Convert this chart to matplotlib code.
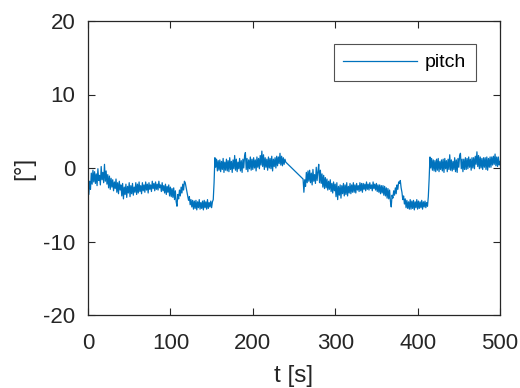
import matplotlib
matplotlib.use("Agg")
import matplotlib.pyplot as plt
import numpy as np

# segment 1: t = 0..240 s (1 s step)
pitch_seg1 = [
    -2.4, -3.6, -1.8, -2.9, -0.7, -2.2, -0.3, -1.9, -0.5, -2.1,
    -0.8, -2.4, -0.1, -1.7, -1.0, -2.3, 0.2, -1.6, -0.6, -2.0,
    0.5, -1.8, -0.4, -2.2, -0.9, -2.7, -1.1, -2.9, -1.4, -2.6,
    -1.6, -3.1, -1.9, -2.8, -1.5, -3.3, -2.0, -3.5, -1.8, -3.0,
    -2.3, -3.8, -2.1, -4.2, -2.6, -3.6, -2.2, -4.0, -2.5, -3.4,
    -2.0, -3.9, -2.4, -3.5, -2.1, -3.7, -2.6, -3.3, -2.0, -3.6,
    -2.2, -3.4, -1.9, -3.2, -2.4, -3.5, -2.0, -3.1, -2.3, -3.3,
    -1.9, -3.0, -2.2, -3.4, -2.0, -2.9, -2.3, -3.2, -1.8, -2.8,
    -2.1, -3.1, -1.9, -2.9, -2.2, -3.0, -1.8, -2.7, -2.3, -3.2,
    -2.0, -3.1, -2.4, -3.4, -2.2, -3.6, -2.5, -3.3, -2.3, -3.8,
    -2.6, -3.9, -2.8, -4.0, -2.7, -4.3, -3.1, -4.6, -5.2, -3.6,
    -4.2, -3.0, -3.8, -2.6, -3.4, -2.2, -3.0, -1.8, -2.0, -2.6,
    -3.2, -3.8, -4.4, -3.9, -5.0, -4.3, -5.3, -4.4, -5.6, -4.5,
    -5.5, -4.4, -5.7, -4.6, -5.4, -4.3, -5.6, -4.7, -5.5, -4.5,
    -5.7, -4.4, -5.4, -4.6, -5.6, -4.3, -5.5, -4.7, -5.3, -4.5,
    -5.4, -4.6, -4.3, -2.0, 1.4, 0.1, 1.2, -0.4, 1.0, -0.3,
    1.1, -0.5, 0.9, -0.2, 1.3, -0.6, 0.8, -0.3, 1.2, -0.4,
    1.0, -0.5, 1.4, -0.2, 0.9, -0.6, 1.1, -0.1, 1.7, -0.3,
    1.2, -0.5, 0.8, -0.1, 1.3, -0.4, 1.0, -0.6, 1.2, 0.0,
    1.6, 2.1, -0.2, 1.3, -0.5, 1.1, -0.1, 1.5, -0.3, 1.2,
    -0.2, 1.4, 0.0, 1.1, -0.4, 1.5, 0.1, 1.3, -0.1, 1.7,
    0.4, 2.3, 0.2, 1.8, -0.2, 1.4, 0.1, 1.2, -0.3, 1.5,
    0.0, 1.3, -0.1, 1.6, -0.4, 1.2, 0.2, 1.4, 0.0, 1.6,
    0.3, 1.5, 0.6, 2.0, 0.4, 1.6, 0.3, 1.4, 0.5, 1.2,
    0.8,
]
t_seg1_start = 0

# segment 2: t = 261..500 s (1 s step)
pitch_seg2 = [
    -1.5, -3.3, -1.6, -2.5, -0.6, -2.0, -0.4, -1.8, -0.3, -2.0,
    -0.7, -2.3, -0.2, -1.8, -0.9, -2.1, 0.1, -1.7, -0.5, 0.5,
    -2.0, -0.3, -2.1, -0.8, -2.6, -1.0, -2.8, -1.3, -2.7, -1.5,
    -3.0, -1.8, -2.9, -1.6, -3.2, -2.1, -3.4, -1.9, -3.1, -2.2,
    -3.9, -2.0, -4.3, -2.5, -3.7, -2.3, -4.1, -2.4, -3.5, -2.1,
    -3.8, -2.3, -3.6, -2.0, -3.8, -2.5, -3.4, -2.1, -3.5, -2.3,
    -3.3, -2.0, -3.3, -2.3, -3.4, -2.1, -3.0, -2.4, -3.2, -2.0,
    -3.1, -2.1, -3.3, -2.1, -2.9, -2.2, -3.1, -1.9, -2.9, -2.2,
    -3.0, -2.0, -2.8, -2.3, -3.1, -1.9, -2.8, -2.2, -3.0, -2.1,
    -3.2, -2.3, -3.3, -2.3, -3.5, -2.4, -3.4, -2.4, -3.7, -2.5,
    -3.8, -2.7, -4.1, -2.8, -4.2, -3.0, -4.5, -5.3, -3.7, -4.1,
    -3.1, -3.7, -2.7, -3.5, -2.3, -2.9, -1.9, -2.1, -1.7, -2.7,
    -3.3, -4.3, -3.8, -4.9, -4.2, -5.4, -4.4, -5.5, -4.6, -5.6,
    -4.3, -5.6, -4.5, -5.5, -4.4, -5.7, -4.6, -5.4, -4.3, -5.6,
    -4.5, -5.5, -4.6, -5.4, -4.4, -5.6, -4.6, -5.3, -4.5, -5.4,
    -4.7, -5.2, -3.9, -1.5, 1.5, 0.0, 1.3, -0.3, 1.1, -0.4,
    1.0, -0.5, 1.2, -0.3, 1.3, -0.5, 0.9, -0.2, 1.1, -0.4,
    1.2, -0.6, 1.3, -0.1, 1.0, -0.5, 1.2, -0.2, 1.8, -0.3,
    1.1, -0.4, 0.9, -0.2, 1.4, -0.5, 1.1, -0.6, 1.3, 0.1,
    1.7, 2.0, -0.1, 1.2, -0.5, 1.2, -0.2, 1.4, -0.2, 1.3,
    -0.1, 1.5, 0.1, 1.2, -0.3, 1.4, 0.0, 1.4, -0.1, 1.6,
    0.5, 2.2, 0.2, 1.7, -0.1, 1.5, 0.0, 1.3, -0.2, 1.4,
    0.1, 1.4, -0.2, 1.5, -0.3, 1.3, 0.1, 1.5, 0.1, 1.5,
    0.4, 1.6, 0.5, 1.9, 0.3, 1.5, 0.2, 1.5, 0.4, 0.9,
]
t_seg2_start = 261

x_ticks = [0, 100, 200, 300, 400, 500]
y_ticks = [-20, -10, 0, 10, 20]
series_label = "pitch"

t = np.concatenate([t_seg1_start + np.arange(len(pitch_seg1)),
                    t_seg2_start + np.arange(len(pitch_seg2))])
y = np.concatenate([pitch_seg1, pitch_seg2])

plt.rcParams['font.family'] = ['Liberation Sans', 'DejaVu Sans']
plt.rcParams['axes.unicode_minus'] = False
axcol = '#262626'

fig = plt.figure(figsize=(5.2, 3.88), dpi=100)
ax = fig.add_axes([88/520, 1-315/388, (500-88)/520, (315-21)/388])
ax.plot(t, y, color='#0072BD', lw=0.9, label=series_label)
ax.set_xlim(0, 500)
ax.set_ylim(-20, 20)
ax.set_xticks(x_ticks)
ax.set_yticks(y_ticks)
ax.tick_params(direction='in', length=5, width=0.8, top=True, right=True,
               labelsize=16, colors=axcol)
ax.tick_params(axis='x', pad=13)
ax.tick_params(axis='y', pad=9)
for s in ax.spines.values():
    s.set_color(axcol)
    s.set_linewidth(0.9)
ax.set_xlabel('t [s]', fontsize=17.5, color=axcol, labelpad=8)
ax.set_ylabel('[°]', fontsize=17.5, color=axcol, labelpad=6)
leg = ax.legend(loc='upper right', bbox_to_anchor=(476/520, 1-44/388),
                bbox_transform=fig.transFigure, fontsize=14, fancybox=False,
                handlelength=3.8, borderpad=0.5, handletextpad=0.4,
                borderaxespad=0)
leg.get_frame().set_edgecolor(axcol)
leg.get_frame().set_linewidth(0.8)
fig.savefig('out.png', dpi=100)
